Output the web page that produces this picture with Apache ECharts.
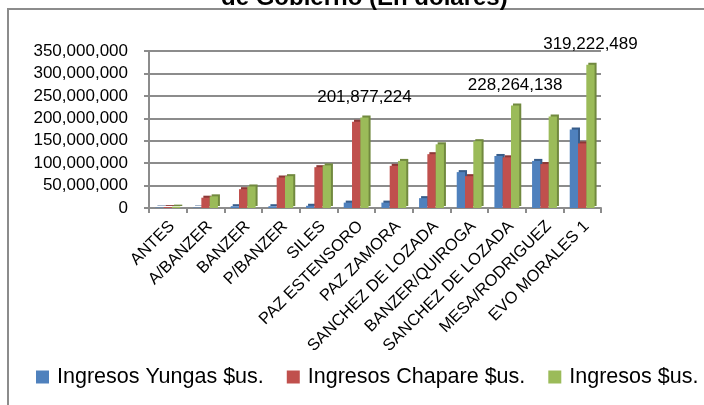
<!DOCTYPE html>
<html><head><meta charset="utf-8">
<script src="https://cdn.jsdelivr.net/npm/echarts@6/dist/echarts.min.js"></script>
<style>html,body{margin:0;padding:0;background:#fff}#c{width:704px;height:405px}</style>
</head><body><div id="c"></div>
<script>
const categories = ['ANTES','A/BANZER','BANZER','P/BANZER','SILES','PAZ ESTENSORO','PAZ ZAMORA','SANCHEZ DE LOZADA','BANZER/QUIROGA','SANCHEZ DE LOZADA','MESA/RODRIGUEZ','EVO MORALES 1'];
const yungas  = [1000000, 1000000, 4000000, 4000000, 5000000, 12000000, 12000000, 22000000, 80000000, 116000000, 105000000, 175000000];
const chapare = [2000000, 23000000, 42000000, 68000000, 91000000, 192000000, 94000000, 120000000, 71000000, 113000000, 98000000, 144000000];
const total   = [3000000, 26000000, 48000000, 71000000, 95000000, 201877224, 105000000, 142000000, 149000000, 228264138, 204000000, 319222489];
const labelled = [5, 9, 11];
const yTicks = [0, 50000000, 100000000, 150000000, 200000000, 250000000, 300000000, 350000000];
const seriesNames = ['Ingresos Yungas $us.', 'Ingresos Chapare $us.', 'Ingresos $us.'];

const fmt = v => Math.round(v).toString().replace(/\B(?=(\d{3})+(?!\d))/g, ',');
const chart = echarts.init(document.getElementById('c'), null, {renderer: 'canvas'});
const FONT = 'Liberation Sans, Arial';
const colors = ['#4F81BD', '#C0504D', '#9BBB59'];
const sides = ['#385D8A', '#8C3836', '#71893F'];
function mk(name, arr, i) {
  return {
    name, type: 'bar', barGap: '0%', barCategoryGap: '34%',
    itemStyle: {color: colors[i], shadowColor: sides[i], shadowOffsetX: 2, shadowOffsetY: -2, shadowBlur: 0},
    data: arr.map((v, k) => {
      if (i === 2 && labelled.includes(k)) {
        return {value: v, label: {show: true, position: 'top', distance: 12, formatter: p => fmt(p.value),
          fontFamily: FONT, fontSize: 17, color: '#000'}};
      }
      return v;
    })
  };
}
chart.setOption({
  animation: false,
  color: colors,
  title: {text: 'de Gobierno (En dolares)', left: 216, top: -19,
    textStyle: {fontFamily: FONT, fontWeight: 'bold', fontSize: 24, color: '#000'}},
  graphic: [{type: 'rect', shape: {x: 8, y: 9, width: 800, height: 500}, style: {fill: 'none', stroke: '#8c8c8c', lineWidth: 2}, z: -1}],
  legend: {top: 361, left: 31, itemWidth: 13, itemHeight: 13, itemGap: 23, icon: 'rect',
    textStyle: {fontFamily: FONT, fontSize: 21.5, color: '#000', padding: [0,0,0,3]}},
  grid: {left: 149, right: 103, top: 51, bottom: 197, containLabel: false},
  xAxis: {type: 'category', data: categories,
    axisLine: {lineStyle: {color: '#8c8c8c', width: 2}},
    axisTick: {show: true, length: 5, lineStyle: {color: '#8c8c8c', width: 2}},
    axisLabel: {rotate: 45, interval: 0, fontFamily: FONT, fontSize: 16.5, color: '#000', margin: 20, padding: [0, -6, 0, 0]}},
  yAxis: {type: 'value', min: yTicks[0], max: yTicks[yTicks.length - 1], interval: yTicks[1] - yTicks[0],
    axisLine: {show: true, lineStyle: {color: '#8c8c8c', width: 2}},
    axisTick: {show: true, length: 5, lineStyle: {color: '#8c8c8c', width: 2}},
    splitLine: {lineStyle: {color: '#8c8c8c', width: 2}},
    axisLabel: {formatter: fmt, fontFamily: FONT, fontSize: 17, color: '#000', margin: 21}},
  series: [mk(seriesNames[0], yungas, 0), mk(seriesNames[1], chapare, 1), mk(seriesNames[2], total, 2)]
});
</script></body></html>
